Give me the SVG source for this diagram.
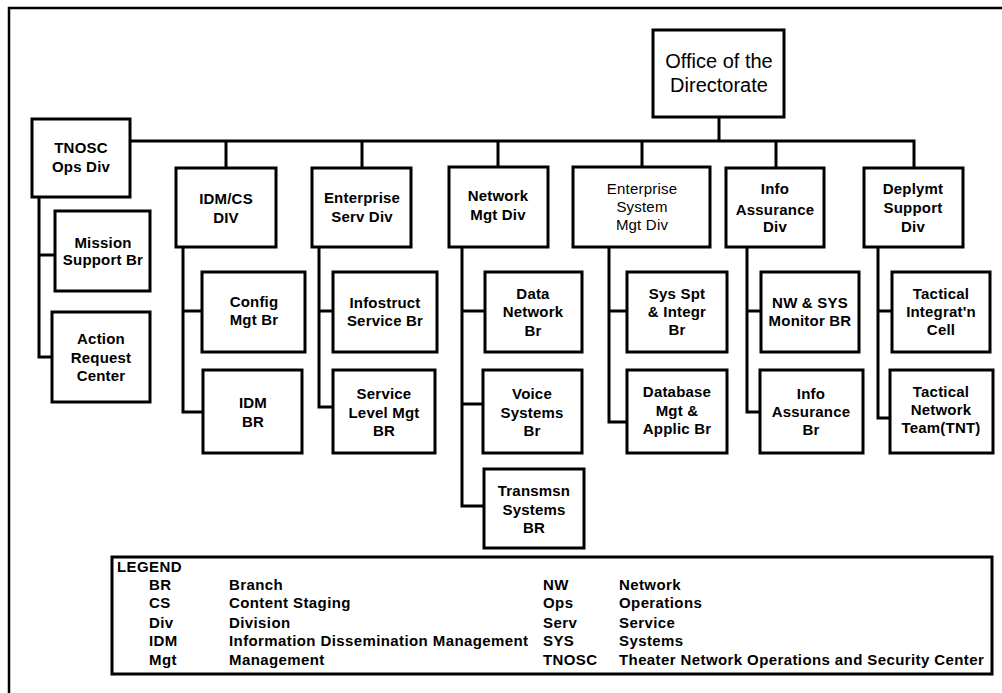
<svg xmlns="http://www.w3.org/2000/svg" width="1002" height="693" viewBox="0 0 1002 693">
  <style>
    .box { fill: #fff; stroke: #000; stroke-width: 3; }
    .wire { fill: none; stroke: #000; stroke-width: 3; }
    .frame { fill: none; stroke: #000; stroke-width: 2.5; }
    text { font-family: "Liberation Sans", Arial, sans-serif; fill: #000; }
    .b { font-size: 15px; font-weight: bold; text-anchor: middle; letter-spacing: 0.2px; }
    .r { font-size: 15px; text-anchor: middle; letter-spacing: 0.2px; }
    .big { font-size: 20px; text-anchor: middle; }
    .lg { font-size: 15px; font-weight: bold; letter-spacing: 0.4px; }
  </style>
  <rect width="1002" height="693" fill="#fff"/>
  <!-- page frame (top and left edges) -->
  <path class="frame" d="M9 693 V8 H1002"/>

  <g id="connectors">
    <!-- main bus -->
    <path class="wire" d="M719 117 V141"/>
    <path class="wire" d="M130 141 H914 V168"/>
    <path class="wire" d="M226 141 V168"/>
    <path class="wire" d="M362 141 V168"/>
    <path class="wire" d="M498 141 V168"/>
    <path class="wire" d="M642 141 V168"/>
    <path class="wire" d="M776 141 V168"/>
    <!-- TNOSC branches -->
    <path class="wire" d="M39 197 V357 H52"/>
    <path class="wire" d="M39 255 H55"/>
    <!-- IDM/CS branches -->
    <path class="wire" d="M183 247 V412 H203"/>
    <path class="wire" d="M183 311 H202"/>
    <!-- Enterprise Serv branches -->
    <path class="wire" d="M319 247 V407 H333"/>
    <path class="wire" d="M319 311 H333"/>
    <!-- Network Mgt branches -->
    <path class="wire" d="M462 247 V506 H484"/>
    <path class="wire" d="M462 311 H485"/>
    <path class="wire" d="M462 404 H483"/>
    <!-- Enterprise System Mgt branches -->
    <path class="wire" d="M609 247 V422 H627"/>
    <path class="wire" d="M609 311 H627"/>
    <!-- Info Assurance branches -->
    <path class="wire" d="M747 247 V412 H760"/>
    <path class="wire" d="M747 311 H761"/>
    <!-- Deplymt Support branches -->
    <path class="wire" d="M878 247 V418 H890"/>
    <path class="wire" d="M878 311 H892"/>
  </g>

  <g id="office">
    <rect class="box" x="653" y="30" width="131" height="87"/>
    <text class="big" x="719" y="68">Office of the</text>
    <text class="big" x="719" y="92">Directorate</text>
  </g>

  <g id="tnosc-ops-div">
    <rect class="box" x="32" y="119" width="98" height="78"/>
    <text class="b" x="81" y="153">TNOSC</text>
    <text class="b" x="81" y="172">Ops Div</text>
  </g>
  <g id="mission-support-br">
    <rect class="box" x="55" y="211" width="95" height="80"/>
    <text class="b" x="103" y="248">Mission</text>
    <text class="b" x="103" y="265">Support Br</text>
  </g>
  <g id="action-request-center">
    <rect class="box" x="52" y="312" width="98" height="90"/>
    <text class="b" x="101" y="344">Action</text>
    <text class="b" x="101" y="363">Request</text>
    <text class="b" x="101" y="381">Center</text>
  </g>

  <g id="idm-cs-div">
    <rect class="box" x="176" y="168" width="100" height="79"/>
    <text class="b" x="226" y="204">IDM/CS</text>
    <text class="b" x="226" y="223">DIV</text>
  </g>
  <g id="config-mgt-br">
    <rect class="box" x="202" y="272" width="103" height="80"/>
    <text class="b" x="254" y="307">Config</text>
    <text class="b" x="254" y="325">Mgt Br</text>
  </g>
  <g id="idm-br">
    <rect class="box" x="203" y="370" width="99" height="83"/>
    <text class="b" x="253" y="408">IDM</text>
    <text class="b" x="253" y="427">BR</text>
  </g>

  <g id="enterprise-serv-div">
    <rect class="box" x="312" y="168" width="99" height="79"/>
    <text class="b" x="362" y="203">Enterprise</text>
    <text class="b" x="362" y="222">Serv Div</text>
  </g>
  <g id="infostruct-service-br">
    <rect class="box" x="333" y="272" width="104" height="80"/>
    <text class="b" x="385" y="308">Infostruct</text>
    <text class="b" x="385" y="326">Service Br</text>
  </g>
  <g id="service-level-mgt-br">
    <rect class="box" x="333" y="370" width="102" height="83"/>
    <text class="b" x="384" y="399">Service</text>
    <text class="b" x="384" y="418">Level Mgt</text>
    <text class="b" x="384" y="436">BR</text>
  </g>

  <g id="network-mgt-div">
    <rect class="box" x="449" y="167" width="99" height="80"/>
    <text class="b" x="498" y="201">Network</text>
    <text class="b" x="498" y="220">Mgt Div</text>
  </g>
  <g id="data-network-br">
    <rect class="box" x="485" y="272" width="97" height="80"/>
    <text class="b" x="533" y="299">Data</text>
    <text class="b" x="533" y="317">Network</text>
    <text class="b" x="533" y="336">Br</text>
  </g>
  <g id="voice-systems-br">
    <rect class="box" x="483" y="370" width="99" height="83"/>
    <text class="b" x="532" y="399">Voice</text>
    <text class="b" x="532" y="418">Systems</text>
    <text class="b" x="532" y="436">Br</text>
  </g>
  <g id="transmsn-systems-br">
    <rect class="box" x="484" y="469" width="100" height="79"/>
    <text class="b" x="534" y="496">Transmsn</text>
    <text class="b" x="534" y="515">Systems</text>
    <text class="b" x="534" y="533">BR</text>
  </g>

  <g id="enterprise-system-mgt-div">
    <rect class="box" x="573" y="167" width="137" height="80"/>
    <text class="r" x="642" y="194">Enterprise</text>
    <text class="r" x="642" y="212">System</text>
    <text class="r" x="642" y="230">Mgt Div</text>
  </g>
  <g id="sys-spt-integr-br">
    <rect class="box" x="627" y="272" width="100" height="80"/>
    <text class="b" x="677" y="299">Sys Spt</text>
    <text class="b" x="677" y="317">&amp; Integr</text>
    <text class="b" x="677" y="335">Br</text>
  </g>
  <g id="database-mgt-applic-br">
    <rect class="box" x="627" y="370" width="100" height="83"/>
    <text class="b" x="677" y="397">Database</text>
    <text class="b" x="677" y="416">Mgt &amp;</text>
    <text class="b" x="677" y="434">Applic Br</text>
  </g>

  <g id="info-assurance-div">
    <rect class="box" x="726" y="168" width="98" height="79"/>
    <text class="b" x="775" y="194">Info</text>
    <text class="b" x="775" y="215">Assurance</text>
    <text class="b" x="775" y="232">Div</text>
  </g>
  <g id="nw-sys-monitor-br">
    <rect class="box" x="761" y="272" width="98" height="80"/>
    <text class="b" x="810" y="308">NW &amp; SYS</text>
    <text class="b" x="810" y="326">Monitor BR</text>
  </g>
  <g id="info-assurance-br">
    <rect class="box" x="760" y="370" width="103" height="83"/>
    <text class="b" x="811" y="399">Info</text>
    <text class="b" x="811" y="417">Assurance</text>
    <text class="b" x="811" y="435">Br</text>
  </g>

  <g id="deplymt-support-div">
    <rect class="box" x="864" y="168" width="99" height="79"/>
    <text class="b" x="913" y="194">Deplymt</text>
    <text class="b" x="913" y="213">Support</text>
    <text class="b" x="913" y="232">Div</text>
  </g>
  <g id="tactical-integratn-cell">
    <rect class="box" x="892" y="272" width="98" height="80"/>
    <text class="b" x="941" y="299">Tactical</text>
    <text class="b" x="941" y="317">Integrat'n</text>
    <text class="b" x="941" y="335">Cell</text>
  </g>
  <g id="tactical-network-team">
    <rect class="box" x="890" y="370" width="103" height="83"/>
    <text class="b" x="941" y="397">Tactical</text>
    <text class="b" x="941" y="415">Network</text>
    <text class="b" x="941" y="433">Team(TNT)</text>
  </g>

  <g id="legend">
    <rect class="box" x="112" y="557" width="880" height="117"/>
    <text class="lg" x="117" y="572">LEGEND</text>
    <text class="lg" x="149" y="590">BR</text>
    <text class="lg" x="229" y="590">Branch</text>
    <text class="lg" x="149" y="608">CS</text>
    <text class="lg" x="229" y="608">Content Staging</text>
    <text class="lg" x="149" y="628">Div</text>
    <text class="lg" x="229" y="628">Division</text>
    <text class="lg" x="149" y="646">IDM</text>
    <text class="lg" x="229" y="646">Information Dissemination Management</text>
    <text class="lg" x="149" y="665">Mgt</text>
    <text class="lg" x="229" y="665">Management</text>
    <text class="lg" x="543" y="590">NW</text>
    <text class="lg" x="619" y="590">Network</text>
    <text class="lg" x="543" y="608">Ops</text>
    <text class="lg" x="619" y="608">Operations</text>
    <text class="lg" x="543" y="628">Serv</text>
    <text class="lg" x="619" y="628">Service</text>
    <text class="lg" x="543" y="646">SYS</text>
    <text class="lg" x="619" y="646">Systems</text>
    <text class="lg" x="543" y="665">TNOSC</text>
    <text class="lg" x="619" y="665">Theater Network Operations and Security Center</text>
  </g>
</svg>
